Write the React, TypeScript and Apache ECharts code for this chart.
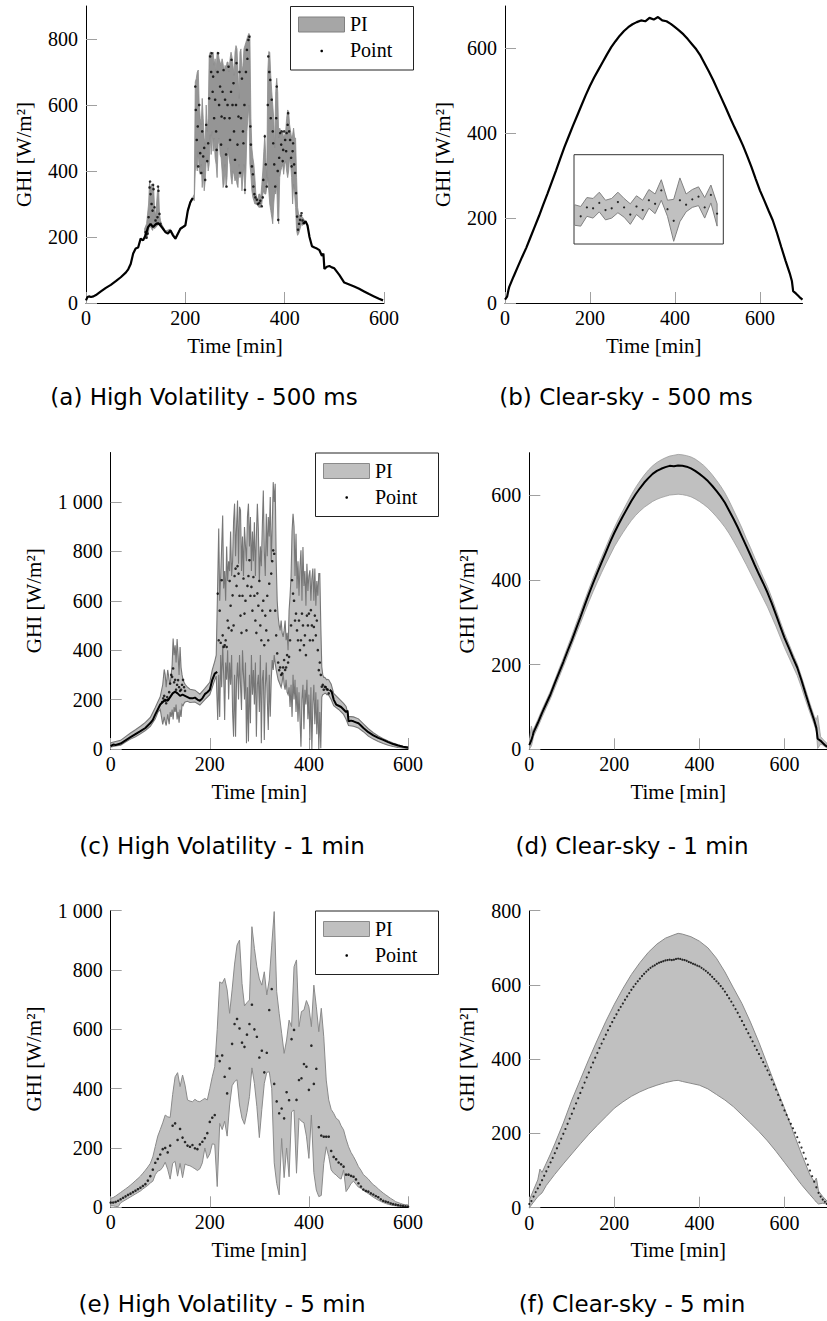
import React, { useEffect, useRef } from "react";
import * as echarts from "echarts";

const seq = (a: number, b: number, s: number): number[] => {
  const r: number[] = [];
  for (let t = a; t <= b + 1e-9; t += s) r.push(Math.round(t * 100) / 100);
  return r;
};

// ---------------- (a) High Volatility - 500 ms ----------------
const aLineT = [0, 3, 6, 10, 15, 20, 30, 40, 50, 60, 70, 80, 85, 90, 95, 100, 105, 110, 115, 120, 125, 130, 135, 140, 145, 150, 155, 160, 165, 170, 175, 180, 185, 190, 195, 200, 205, 210, 215, 300, 438, 442, 446, 450, 455, 460, 465, 470, 475, 478, 480, 485, 490, 495, 500, 505, 510, 520, 530, 540, 550, 560, 570, 580, 590, 598];
const aLineV: (number | null)[] = [8, 18, 20, 18, 20, 24, 35, 46, 55, 66, 78, 92, 102, 118, 150, 165, 168, 195, 190, 205, 230, 240, 230, 238, 242, 235, 225, 215, 210, 220, 205, 195, 210, 225, 230, 235, 280, 305, 318, null, 240, 248, 235, 200, 172, 168, 165, 160, 143, 150, 103, 110, 112, 108, 105, 95, 85, 62, 56, 50, 43, 35, 27, 20, 13, 8];
const aDotT = [120, 122, 124, 126, 128, 129, 130, 132, 134, 135, 136, 138, 140, 142, 144, 145, 146, 148, 150,
  220, 221, 223, 225, 226, 228, 230, 232, 234, 236, 238, 240, 242, 244, 246, 248, 250, 252, 253, 255, 256, 258, 260, 262, 263, 265, 266, 268, 270, 272, 273, 275, 277, 279, 280, 282, 283, 285, 287, 289, 290, 292, 293, 295, 297, 298, 300, 302, 303, 305, 307, 309, 310, 312, 314, 316, 317, 319, 320, 322, 324, 325, 327, 329, 331, 332, 334, 336, 337, 339, 341, 344, 346, 349, 351, 354, 356, 357, 360, 362, 364, 366, 367, 369, 371, 372, 374, 376, 377, 379, 381, 383, 384, 386, 387, 389, 391, 393, 394, 396, 397, 399, 401, 403, 404, 406, 407, 409, 411, 413, 414, 416, 417, 419, 421, 423, 425, 427, 429, 431, 433, 434, 436, 438];
const aDotV = [215, 198, 210, 260, 350, 368, 330, 300, 280, 358, 345, 290, 250, 240, 260, 353, 340, 270, 240,
  656, 585, 494, 535, 414, 600, 454, 394, 520, 444, 470, 373, 540, 430, 484, 620, 747, 700, 757, 640, 686, 560, 616, 520, 464, 700, 757, 600, 656, 480, 565, 640, 706, 560, 616, 450, 353, 600, 716, 560, 494, 640, 737, 600, 666, 520, 434, 600, 727, 480, 565, 700, 394, 560, 680, 520, 484, 600, 343, 700, 767, 740, 797, 807, 535, 480, 414, 390, 353, 330, 320, 313, 300, 303, 310, 293, 320, 373, 505, 420, 353, 600, 747, 700, 676, 560, 616, 520, 484, 420, 353, 560, 656, 400, 252, 440, 515, 480, 520, 430, 464, 520, 494, 460, 515, 540, 575, 520, 494, 440, 414, 460, 484, 420, 394, 333, 262, 222, 240, 252, 265, 272, 250, 242];
const aBandT = [118, 122, 126, 128, 130, 132, 134, 136, 138, 140, 144, 146, 148, 150, 152, 160, 170, 180, 190, 200, 205, 210, 212, 215, 218, ...seq(220, 442, 2)];
const aBandHi = [225, 240, 300, 368, 340, 360, 345, 358, 290, 260, 340, 353, 270, 250, 240, 218, 224, 199, 228, 238, 284, 308, 315, 320, 330,
  670, 680, 700, 706, 600, 560, 540, 620, 560, 500,
  480, 600, 520, 560, 750, 760, 760, 750, 760, 720,
  740, 700, 760, 760, 740, 730, 720, 740, 725, 700,
  720, 710, 730, 730, 700, 740, 760, 745, 720, 690,
  760, 780, 770, 700, 620, 760, 770, 700, 720, 770,
  780, 790, 800, 810, 817, 810, 560, 470, 440, 420,
  380, 330, 320, 310, 330, 330, 320, 360, 400, 460,
  510, 440, 380, 700, 762, 760, 690, 640, 600, 560,
  470, 640, 681, 640, 500, 530, 520, 510, 520, 500,
  510, 520, 560, 585, 580, 540, 520, 500, 510, 530,
  500, 500, 380, 290, 270, 265, 260, 260, 260, 255,
  250, 248];
const aBandLo = [195, 195, 215, 240, 230, 225, 220, 230, 225, 228, 235, 240, 235, 230, 230, 212, 218, 193, 223, 232, 278, 302, 308, 315, 310,
  400, 420, 400, 460, 400, 390, 420, 350, 400, 340,
  370, 430, 440, 400, 420, 510, 450, 520, 460, 500,
  440, 420, 380, 480, 500, 450, 440, 400, 350, 360,
  420, 350, 380, 470, 440, 420, 380, 360, 400, 390,
  370, 380, 360, 350, 420, 380, 400, 340, 380, 420,
  330, 400, 520, 560, 600, 420, 390, 340, 320, 310,
  300, 300, 300, 295, 290, 290, 290, 300, 330, 340,
  330, 330, 350, 380, 340, 300, 280, 260, 240, 300,
  340, 330, 360, 260, 240, 380, 400, 410, 420, 390,
  420, 430, 400, 380, 400, 440, 420, 380, 300, 360,
  330, 290, 220, 205, 210, 220, 230, 240, 235, 240,
  240, 245];

// ---------------- Clear-sky grid (b, d) ----------------
const csT = [0, 5, 8, ...seq(10, 670, 10), 675, 678, 685, 690, 695, 700];
const bPoint = [8, 15, 30,
  38, 62, 85, 108, 130, 155, 180, 205, 232, 258,
  285, 312, 340, 368, 393, 418, 442, 466, 490, 512,
  532, 550, 568, 586, 603, 617, 630, 641, 650, 657,
  662, 666, 664, 672, 668, 674, 666, 664, 658, 650,
  642, 633, 622, 610, 598, 583, 564, 545, 525, 503,
  481, 459, 436, 414, 393, 371, 346, 320, 292, 265,
  242, 218, 195, 165, 132, 100, 70,
  52, 28, 22, 17, 12, 8];
const dPoint = [10, 22, 32,
  40, 62, 86, 108, 130, 156, 181, 206, 232, 257,
  284, 311, 339, 366, 392, 417, 441, 465, 489, 511,
  531, 550, 568, 586, 602, 616, 629, 640, 650, 657,
  662, 666, 669, 668, 670, 669, 667, 663, 657, 650,
  642, 633, 622, 610, 597, 582, 563, 544, 524, 502,
  480, 458, 435, 413, 392, 370, 345, 318, 290, 263,
  240, 216, 193, 163, 130, 98, 68,
  50, 25, 20, 15, 10, 6];
const dHi = [20, 55, 40,
  48, 70, 94, 116, 138, 164, 190, 215, 242, 268,
  296, 323, 351, 378, 404, 429, 453, 477, 501, 523,
  544, 563, 582, 601, 618, 633, 647, 659, 669, 677,
  683, 688, 692, 694, 696, 695, 693, 690, 685, 678,
  670, 660, 648, 635, 621, 605, 586, 565, 544, 522,
  498, 476, 452, 429, 406, 384, 358, 330, 302, 274,
  250, 225, 202, 172, 140, 108, 78,
  70, 80, 30, 24, 19, 14];
const dLo = [0, 8, 20,
  30, 52, 76, 98, 120, 145, 170, 195, 220, 246,
  272, 297, 323, 348, 372, 395, 417, 438, 458, 478,
  495, 511, 526, 540, 552, 562, 571, 578, 585, 590,
  594, 597, 600, 601, 602, 601, 599, 596, 591, 585,
  578, 570, 560, 549, 537, 524, 509, 492, 474, 455,
  436, 416, 396, 376, 356, 336, 313, 290, 265, 240,
  218, 196, 174, 146, 115, 86, 58,
  42, 2, 12, 10, 6, 3];

// inset of (b)
const insetBandX = seq(0, 23, 1);
const insetHi = [44, 42, 52, 51, 58, 49, 51, 58, 51, 45, 54, 49, 61, 56, 72, 49, 50, 74, 56, 61, 64, 52, 66, 45];
const insetLo = [21, 20, 31, 29, 36, 27, 29, 35, 30, 22, 33, 27, 40, 34, 49, 31, 3, 25, 36, 41, 43, 29, 46, 20];
const insetDotX = seq(1, 23, 1);
const insetDot = [31, 41, 40, 46, 38, 40, 47, 41, 33, 42, 38, 49, 45, 60, 39, 26, 49, 44, 50, 53, 41, 55, 34];

// ---------------- (c) High Volatility - 1 min ----------------
const cLineT = [0, 5, 10, 20, 30, 40, 50, 60, 70, 80, 85, 90, 95, 100, 105, 110, 115, 120, 125, 130, 135, 140, 145, 150, 155, 160, 165, 170, 175, 180, 185, 190, 195, 200, 205, 210, 215, 300, 442, 446, 450, 455, 460, 465, 470, 475, 478, 480, 485, 490, 495, 500, 505, 510, 520, 530, 540, 550, 560, 570, 580, 590, 600];
const cLineV: (number | null)[] = [12, 18, 16, 22, 35, 48, 60, 72, 85, 105, 118, 140, 160, 180, 190, 200, 195, 210, 225, 232, 225, 215, 220, 215, 210, 205, 205, 208, 200, 195, 205, 222, 230, 240, 280, 305, 312, null, 240, 232, 200, 180, 175, 170, 160, 150, 155, 112, 115, 112, 108, 104, 95, 85, 68, 55, 45, 37, 28, 20, 14, 9, 6];
const cDotT = [...seq(104, 150, 2), ...seq(216, 440, 2)];
const cDotV = [190, 205, 215, 195, 185, 210, 200, 230, 265, 300, 292, 326, 270, 280, 240, 260, 279, 250, 235, 240, 260, 280, 250, 235,
  629, 440, 560, 430, 683, 460, 413, 420, 440, 413,
  520, 490, 680, 580, 480, 622, 500, 700, 730, 660,
  740, 710, 620, 540, 470, 620, 690, 548, 600, 480,
  660, 700, 764, 620, 656, 560, 696, 620, 520, 470,
  630, 580, 680, 500, 440, 560, 600, 420, 540, 480,
  620, 440, 669, 560, 710, 760, 804, 790, 560, 460,
  387, 350, 319, 330, 300, 306, 330, 360, 320, 330,
  380, 350, 373, 440, 500, 683, 629, 600, 520, 548,
  480, 440, 520, 400, 440, 548, 500, 420, 460, 380,
  540, 500, 548, 440, 562, 500, 440, 494, 540, 460,
  520, 400, 319, 350, 300, 252, 260, 240, 252, 250,
  242, 240, 225];
const cBandT = [0, 10, 20, 30, 40, 50, 60, 70, 80, 90, 95, 100, 105, 108, 110, 112, 115, 118, 120, ...seq(122, 150, 2), 155, 160, 170, 180, 190, 200, 205, 210, 213, ...seq(216, 440, 2), 445, 450, 460, 470, 475, 480, 490, 500, 510, 520, 530, 540, 550, 560, 570, 580, 590, 600];
const cHi = [25, 30, 35, 50, 65, 78, 92, 108, 128, 168, 190, 212, 260, 322, 300, 250, 320, 280, 260,
  300, 340, 447, 380, 420, 350, 445, 380, 300, 413, 330, 300, 280, 270, 262,
  250, 242, 238, 222, 245, 270, 320, 355, 380,
  680, 892, 600, 700, 820, 945, 650, 720, 600, 820,
  680, 760, 720, 880, 700, 760, 920, 993, 780, 900,
  1006, 750, 980, 966, 720, 860, 700, 898, 820, 760,
  940, 993, 820, 939, 720, 880, 760, 918, 700, 860,
  993, 885, 680, 820, 740, 900, 1046, 800, 700, 952,
  780, 939, 860, 1020, 760, 900, 1080, 1000, 1073, 760,
  600, 535, 500, 480, 520, 470, 454, 480, 520, 440,
  470, 400, 560, 620, 700, 880, 952, 900, 700, 871,
  650, 760, 620, 740, 804, 600, 817, 660, 720, 580,
  750, 640, 700, 723, 600, 690, 730, 600, 730, 580,
  680, 620, 710, 710, 500, 333, 300, 290, 290, 285,
  280, 282, 280,
  262, 225, 205, 185, 172, 132, 130, 122, 102, 82, 66, 53, 42, 32, 24, 17, 11, 7];
const cLo = [8, 12, 15, 28, 40, 50, 62, 75, 92, 122, 148, 160, 100, 130, 110, 95, 140, 100, 150,
  130, 160, 120, 170, 150, 180, 120, 150, 106, 160, 130, 180, 175, 185, 190,
  193, 188, 190, 178, 200, 220, 250, 280, 295,
  117, 300, 130, 380, 250, 420, 300, 117, 350, 280,
  400, 200, 350, 260, 380, 150, 50, 300, 50, 280,
  350, 200, 380, 260, 158, 400, 300, 200, 350, 23,
  250, 30, 300, 104, 380, 220, 320, 180, 350, 50,
  260, 300, 150, 380, 23, 280, 320, 36, 250, 350,
  200, 77, 300, 131, 280, 360, 320, 380, 346, 320,
  300, 280, 270, 260, 250, 270, 306, 260, 240, 280,
  230, 220, 250, 170, 260, 130, 300, 200, 280, 150,
  250, 110, 230, 120, 9, 200, 260, 80, 240, 180,
  280, 120, 220, 36, 250, 0, 180, 260, 100, 230,
  60, 200, 0, 150, 3, 210, 220, 222, 225, 225,
  220, 220, 218,
  200, 175, 160, 140, 120, 95, 92, 85, 70, 52, 40, 30, 22, 15, 10, 6, 4, 2];

// ---------------- (e) High Volatility - 5 min ----------------
const eT = seq(0, 600, 5);
const ePoint = [16, 16, 18, 22, 27, 32, 37, 42, 46, 51,
  56, 61, 66, 72, 78, 90, 105, 127, 150, 163,
  178, 196, 200, 185, 208, 275, 283, 227, 264, 235,
  220, 208, 204, 210, 199, 196, 212, 221, 233, 250,
  288, 302, 311, 510, 493, 512, 440, 384, 468, 551,
  618, 635, 603, 555, 541, 582, 618, 683, 600, 575,
  505, 528, 455, 521, 665, 736, 416, 357, 317, 333,
  300, 388, 361, 567, 598, 362, 429, 435, 483, 474,
  396, 545, 416, 467, 270, 242, 238, 238, 238, 190,
  170, 162, 151, 145, 137, 110, 110, 106, 103, 94,
  81, 70, 60, 55, 53, 47, 43, 38, 34, 27,
  22, 19, 17, 13, 11, 9, 7, 6, 5, 3,
  2];
const eHi = [30, 33, 38, 44, 50, 56, 62, 68, 75, 82,
  90, 97, 105, 115, 125, 136, 148, 170, 205, 240,
  262, 285, 311, 305, 303, 380, 440, 454, 407, 446,
  412, 362, 358, 356, 364, 358, 356, 362, 367, 362,
  400, 440, 474, 600, 760, 755, 772, 733, 654, 733,
  820, 884, 901, 755, 679, 690, 699, 946, 873, 811,
  770, 749, 794, 716, 766, 884, 997, 727, 654, 587,
  519, 564, 631, 609, 811, 834, 609, 660, 665, 697,
  676, 609, 749, 676, 592, 671, 575, 429, 362, 330,
  317, 300, 294, 275, 261, 230, 204, 185, 171, 155,
  137, 125, 110, 103, 95, 85, 76, 70, 62, 55,
  48, 42, 36, 30, 25, 19, 16, 13, 10, 9,
  8];
const eLo = [5, 5, 3, 2, 15, 20, 25, 30, 35, 40,
  45, 50, 55, 62, 68, 74, 82, 88, 110, 122,
  125, 135, 152, 128, 95, 148, 155, 105, 148, 100,
  146, 142, 140, 135, 130, 124, 130, 150, 200, 165,
  180, 214, 212, 70, 283, 262, 290, 240, 345, 410,
  424, 430, 345, 300, 280, 320, 373, 470, 418, 340,
  235, 330, 418, 455, 457, 400, 150, 80, 42, 232,
  100, 200, 103, 322, 328, 115, 300, 290, 285, 240,
  165, 311, 117, 58, 36, 40, 148, 204, 171, 126,
  115, 109, 100, 95, 126, 53, 65, 80, 88, 78,
  68, 64, 58, 52, 46, 40, 34, 29, 24, 20,
  16, 13, 10, 8, 6, 5, 4, 3, 2, 2,
  1];

// ---------------- (f) Clear-sky - 5 min ----------------
const fT = seq(0, 700, 5);
const fPoint = [10, 18, 30, 42, 52, 62, 74, 86, 98, 110,
  122, 134, 147, 160, 173, 186, 199, 212, 226, 240,
  253, 267, 281, 295, 309, 323, 337, 351, 364, 378,
  391, 404, 417, 430, 442, 454, 466, 478, 489, 500,
  511, 521, 532, 541, 550, 560, 569, 578, 587, 595,
  603, 610, 617, 624, 630, 636, 641, 646, 650, 653,
  657, 660, 662, 664, 666, 667, 668, 667, 668, 670,
  671, 670, 668, 667, 665, 662, 660, 657, 655, 652,
  650, 646, 642, 638, 633, 628, 622, 616, 610, 604,
  597, 590, 582, 573, 564, 555, 545, 535, 525, 514,
  503, 492, 481, 470, 459, 448, 436, 425, 414, 403,
  392, 381, 370, 358, 345, 332, 318, 304, 290, 276,
  262, 250, 238, 226, 214, 202, 190, 176, 162, 148,
  132, 116, 100, 85, 70, 55, 40, 30, 22, 16,
  10];
const fBandT = [0, 10, 20, 25, 30, 40, 50, 60, 80, 100, 120, 140, 160, 180, 200, 220, 240, 260, 280, 300, 320, 340, 350, 360, 380, 400, 420, 440, 460, 480, 500, 520, 540, 560, 580, 600, 620, 640, 660, 670, 675, 680, 690, 700];
const fHi = [20, 48, 75, 104, 95, 120, 145, 172, 228, 290, 345, 400, 452, 502, 548, 590, 628, 660, 688, 710, 726, 735, 739, 737, 730, 718, 700, 672, 635, 592, 550, 500, 445, 385, 325, 268, 205, 145, 88, 70, 80, 45, 30, 18];
const fLo = [0, 15, 30, 35, 40, 60, 75, 90, 118, 145, 172, 198, 222, 245, 268, 285, 300, 312, 322, 330, 337, 342, 343, 340, 335, 330, 320, 305, 290, 272, 250, 228, 205, 180, 152, 122, 92, 62, 35, 22, 15, 10, 12, 10];

// ---------------- text ----------------
const captions = [
  { text: "(a) High Volatility - 500 ms", x: 204, y: 397 },
  { text: "(b) Clear-sky - 500 ms", x: 626, y: 397 },
  { text: "(c) High Volatility - 1 min", x: 222, y: 846 },
  { text: "(d) Clear-sky - 1 min", x: 632, y: 846 },
  { text: "(e) High Volatility - 5 min", x: 222, y: 1304 },
  { text: "(f) Clear-sky - 5 min", x: 632, y: 1304 },
];
const X_TICKS = [0, 200, 400, 600];

const SERIF = '"Liberation Serif", "Times New Roman", serif';
const SANS = '"DejaVu Sans", "Noto Sans", sans-serif';

type Panel = {
  grid: { left: number; top: number; width: number; height: number };
  xMax: number;
  yMax: number;
  yTicks: number[];
  yNameGap: number;
};

const PANELS: Panel[] = [
  { grid: { left: 86, top: 6, width: 298, height: 297 }, xMax: 600, yMax: 900, yTicks: [0, 200, 400, 600, 800], yNameGap: 52 },
  { grid: { left: 505, top: 6, width: 297.5, height: 297 }, xMax: 700, yMax: 700, yTicks: [0, 200, 400, 600], yNameGap: 52 },
  { grid: { left: 110.7, top: 452.5, width: 297.3, height: 296.5 }, xMax: 600, yMax: 1200, yTicks: [0, 200, 400, 600, 800, 1000], yNameGap: 66 },
  { grid: { left: 529.3, top: 452.7, width: 298.5, height: 296.6 }, xMax: 700, yMax: 700, yTicks: [0, 200, 400, 600], yNameGap: 52 },
  { grid: { left: 110.7, top: 910.7, width: 297.3, height: 296.6 }, xMax: 600, yMax: 1000, yTicks: [0, 200, 400, 600, 800, 1000], yNameGap: 66 },
  { grid: { left: 529.3, top: 910.7, width: 298.5, height: 297 }, xMax: 700, yMax: 800, yTicks: [0, 200, 400, 600, 800], yNameGap: 52 },
];

const fmt = (v: number) =>
  v >= 1000 ? `${Math.floor(v / 1000)} ${String(v % 1000).padStart(3, "0")}` : String(v);

function zip(T: number[], V: (number | null)[]) {
  const n = Math.min(T.length, V.length);
  const out: number[][] = [];
  for (let i = 0; i < n; i++) if (V[i] !== null && V[i] !== undefined) out.push([T[i], V[i] as number]);
  return out;
}

function segs(T: number[], V: (number | null)[]) {
  const out: number[][][] = [];
  let cur: number[][] = [];
  const n = Math.min(T.length, V.length);
  for (let i = 0; i < n; i++) {
    const v = V[i];
    if (v === null || v === undefined) {
      if (cur.length) out.push(cur);
      cur = [];
    } else cur.push([T[i], v]);
  }
  if (cur.length) out.push(cur);
  return out;
}

function band(idx: number, T: number[], lo: number[], hi: number[], fill: string, stroke: string, lw: number) {
  const n = Math.min(T.length, lo.length, hi.length);
  return {
    type: "custom",
    xAxisIndex: idx,
    yAxisIndex: idx,
    coordinateSystem: "cartesian2d",
    clip: true,
    silent: true,
    z: 1,
    data: [[T[0], lo[0]]],
    renderItem: (_p: any, api: any) => {
      const pts: number[][] = [];
      for (let i = 0; i < n; i++) pts.push(api.coord([T[i], hi[i]]));
      for (let i = n - 1; i >= 0; i--) pts.push(api.coord([T[i], lo[i]]));
      return { type: "polygon", shape: { points: pts }, style: { fill, stroke, lineWidth: lw } };
    },
  };
}

function lines(idx: number, T: number[], V: (number | null)[], width: number) {
  return segs(T, V).map((d) => ({
    type: "line",
    xAxisIndex: idx,
    yAxisIndex: idx,
    data: d,
    showSymbol: false,
    symbol: "none",
    silent: true,
    z: 3,
    lineStyle: { color: "#000", width },
  }));
}

function dots(idx: number, T: number[], V: number[], size: number) {
  return {
    type: "scatter",
    xAxisIndex: idx,
    yAxisIndex: idx,
    data: zip(T, V),
    symbol: "circle",
    symbolSize: size,
    silent: true,
    z: 4,
    itemStyle: { color: "#000" },
  };
}

function legend(x: number, y: number, swFill: string, swStroke: string) {
  const font = `20px ${SERIF}`;
  return [
    { type: "rect", z: 100, shape: { x: x + 0.5, y: y + 0.5, width: 123, height: 63.5 }, style: { fill: "#fff", stroke: "#222", lineWidth: 1 } },
    { type: "rect", z: 101, shape: { x: x + 8.5, y: y + 11, width: 46, height: 15 }, style: { fill: swFill, stroke: swStroke, lineWidth: 1 } },
    { type: "text", z: 101, x: x + 60, y: y + 18, style: { text: "PI", font, fill: "#000", align: "left", verticalAlign: "middle", textAlign: "left", textVerticalAlign: "middle" } },
    { type: "circle", z: 101, shape: { cx: x + 31.7, cy: y + 45, r: 1.3 }, style: { fill: "#000" } },
    { type: "text", z: 101, x: x + 60, y: y + 44, style: { text: "Point", font, fill: "#000", align: "left", verticalAlign: "middle", textAlign: "left", textVerticalAlign: "middle" } },
  ];
}

function buildOption() {
  const grids: any[] = PANELS.map((p) => ({ ...p.grid, show: false, containLabel: false }));
  grids.push({ left: 574, top: 154.7, width: 149.3, height: 89.3, show: true, borderColor: "#333", borderWidth: 1, backgroundColor: "#fff", containLabel: false });

  const labelStyle = { fontFamily: SERIF, fontSize: 20, color: "#000" };
  const nameStyle = { fontFamily: SERIF, fontSize: 21, color: "#000" };
  const xAxes: any[] = PANELS.map((p, i) => ({
    type: "value",
    gridIndex: i,
    min: 0,
    max: p.xMax,
    interval: 200,
    name: "Time [min]",
    nameLocation: "middle",
    nameGap: 32,
    nameTextStyle: nameStyle,
    axisLine: { show: true, onZero: false, lineStyle: { color: "#000", width: 1 } },
    axisTick: { show: true, inside: true, length: 11, customValues: X_TICKS, lineStyle: { color: "#a0a0a0", width: 1 } },
    axisLabel: { ...labelStyle, margin: 5, customValues: X_TICKS, formatter: fmt },
    splitLine: { show: false },
  }));
  const yAxes: any[] = PANELS.map((p, i) => ({
    type: "value",
    gridIndex: i,
    min: 0,
    max: p.yMax,
    interval: 200,
    name: "GHI [W/m²]",
    nameLocation: "middle",
    nameRotate: 90,
    nameGap: p.yNameGap,
    nameTextStyle: nameStyle,
    axisLine: { show: true, onZero: false, lineStyle: { color: "#000", width: 1 } },
    axisTick: { show: true, inside: true, length: 11, customValues: p.yTicks, lineStyle: { color: "#a0a0a0", width: 1 } },
    axisLabel: { ...labelStyle, margin: 8, customValues: p.yTicks, formatter: fmt },
    splitLine: { show: false },
  }));
  xAxes.push({ type: "value", gridIndex: 6, min: -0.08, max: 24, show: false });
  yAxes.push({ type: "value", gridIndex: 6, min: 0, max: 100, show: false });

  const series: any[] = [
    // (a)
    band(0, aBandT, aBandLo, aBandHi, "#959595", "#8a8a8a", 0.8),
    ...lines(0, aLineT, aLineV, 2.2),
    dots(0, aDotT, aDotV, 2.6),
    // (b)
    ...lines(1, csT, bPoint, 2.2),
    band(6, insetBandX, insetLo, insetHi, "#c0c0c0", "#808080", 1),
    dots(6, insetDotX, insetDot, 2.2),
    // (c)
    band(2, cBandT, cLo, cHi, "#c0c0c0", "#777777", 1.1),
    ...lines(2, cLineT, cLineV, 2),
    dots(2, cDotT, cDotV, 2.6),
    // (d)
    band(3, csT, dLo, dHi, "#c0c0c0", "#9a9a9a", 0.8),
    ...lines(3, csT, dPoint, 2),
    // (e)
    band(4, eT, eLo, eHi, "#c0c0c0", "#8a8a8a", 1),
    dots(4, eT, ePoint, 2.6),
    // (f)
    band(5, fBandT, fLo, fHi, "#c0c0c0", "#8a8a8a", 1),
    dots(5, fT, fPoint, 2.2),
  ];

  const graphic: any[] = [
    ...legend(290, 6, "#a6a6a6", "#808080"),
    ...legend(315, 452.5, "#c0c0c0", "#8a8a8a"),
    ...legend(315, 910.5, "#c0c0c0", "#8a8a8a"),
    ...captions.map((c) => ({
      type: "text",
      z: 100,
      x: c.x,
      y: c.y,
      style: {
        text: c.text,
        font: `23px ${SANS}`,
        fill: "#000",
        align: "center",
        verticalAlign: "middle",
        textAlign: "center",
        textVerticalAlign: "middle",
      },
    })),
  ];

  return {
    animation: false,
    backgroundColor: "#fff",
    grid: grids,
    xAxis: xAxes,
    yAxis: yAxes,
    series,
    graphic,
  };
}

export default function App() {
  const ref = useRef<HTMLDivElement>(null);
  useEffect(() => {
    if (!ref.current) return;
    const chart = echarts.init(ref.current, undefined, { renderer: "svg" });
    chart.setOption(buildOption() as any);
    return () => chart.dispose();
  }, []);
  return (
    <div
      ref={ref}
      style={{ position: "absolute", left: 0, top: 0, width: 827, height: 1321, background: "#fff" }}
    />
  );
}
